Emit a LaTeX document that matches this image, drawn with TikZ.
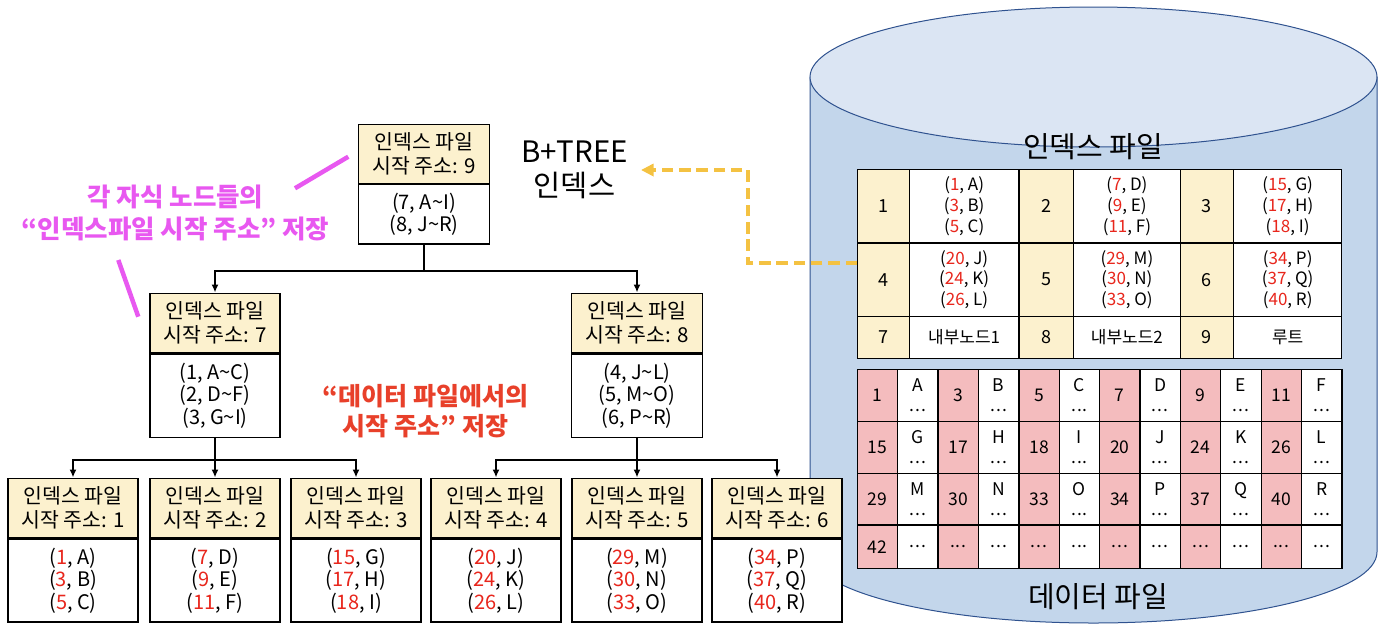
\documentclass[tikz,border=0pt]{standalone}
\usepackage{fontspec}
\setmainfont{Noto Sans CJK KR}
\usetikzlibrary{arrows.meta}
\definecolor{hdr}{RGB}{252,241,206}
\definecolor{pinkc}{RGB}{244,188,190}
\definecolor{numred}{RGB}{232,38,28}
\definecolor{mag}{RGB}{232,88,240}
\definecolor{tred}{RGB}{232,64,42}
\definecolor{gold}{RGB}{244,194,66}
\definecolor{cylside}{RGB}{195,214,235}
\definecolor{cyltop}{RGB}{219,229,243}
\definecolor{cyledge}{RGB}{47,82,143}
\newcommand{\rn}[1]{\textcolor{numred}{#1}}
\newcommand{\mytilde}{\textasciitilde}
\newcommand{\dts}{.\kern1pt.\kern1pt.}
\begin{document}
\begin{tikzpicture}[x=1pt,y=-1pt,
  hbox/.style={draw=black, line width=1.3pt, fill=hdr, anchor=north, minimum width=130pt, minimum height=59.5pt, inner sep=0pt, align=center, font=\fontsize{20.5}{24}\selectfont},
  bbox/.style={draw=black, line width=1.3pt, fill=white, anchor=north, minimum width=130pt, minimum height=83pt, inner sep=0pt, align=center, font=\fontsize{20}{22.5}\selectfont},
  arr/.style={line width=1.8pt, -{Latex[length=8pt,width=7pt]}},
  icell/.style={draw=black, line width=1.3pt, inner sep=0pt, anchor=north west, align=center, font=\fontsize{17}{20.7}\selectfont},
  ncell/.style={icell, fill=hdr, font=\fontsize{18}{20}\selectfont},
  dcell/.style={draw=black, line width=1.3pt, inner sep=0pt, anchor=north west, align=center, minimum width=40.38pt, font=\fontsize{17.5}{20}\selectfont},
  ]
\useasboundingbox (0,0) rectangle (1386,630);

% ---------- cylinder ----------
\filldraw[fill=cylside, draw=cyledge, line width=1pt] (810,77) -- (810,552)
  arc[start angle=180, end angle=0, x radius=283.5, y radius=71] -- (1377,77) -- cycle;
\filldraw[fill=cyltop, draw=cyledge, line width=1pt] (1093.5,77) ellipse [x radius=283.5, y radius=70];
\node[font=\fontsize{29}{32}\selectfont] (idxlabel) at (1093,147) {인덱스 파일};
\node[font=\fontsize{29}{32}\selectfont] (datlabel) at (1098,597) {데이터 파일};

% ---------- index table ----------
\node[ncell, minimum width=51.6pt, minimum height=73.3pt] (i1) at (857,169) {1};
\node[icell, fill=white, minimum width=109.8pt, minimum height=73.3pt] (c1) at (908.6,169) {(\rn{1}, A)\\(\rn{3}, B)\\(\rn{5}, C)};
\node[ncell, minimum width=54.6pt, minimum height=73.3pt] (i2) at (1018.4,169) {2};
\node[icell, fill=white, minimum width=106.5pt, minimum height=73.3pt] (c2) at (1073,169) {(\rn{7}, D)\\(\rn{9}, E)\\(\rn{11}, F)};
\node[ncell, minimum width=53.5pt, minimum height=73.3pt] (i3) at (1179.5,169) {3};
\node[icell, fill=white, minimum width=108pt, minimum height=73.3pt] (c3) at (1233,169) {(\rn{15}, G)\\(\rn{17}, H)\\(\rn{18}, I)};

\node[ncell, minimum width=51.6pt, minimum height=73.4pt] (i4) at (857,242.3) {4};
\node[icell, fill=white, minimum width=109.8pt, minimum height=73.4pt] (c4) at (908.6,242.3) {(\rn{20}, J)\\(\rn{24}, K)\\(\rn{26}, L)};
\node[ncell, minimum width=54.6pt, minimum height=73.4pt] (i5) at (1018.4,242.3) {5};
\node[icell, fill=white, minimum width=106.5pt, minimum height=73.4pt] (c5) at (1073,242.3) {(\rn{29}, M)\\(\rn{30}, N)\\(\rn{33}, O)};
\node[ncell, minimum width=53.5pt, minimum height=73.4pt] (i6) at (1179.5,242.3) {6};
\node[icell, fill=white, minimum width=108pt, minimum height=73.4pt] (c6) at (1233,242.3) {(\rn{34}, P)\\(\rn{37}, Q)\\(\rn{40}, R)};

\node[ncell, minimum width=51.6pt, minimum height=42pt] (i7) at (857,315.7) {7};
\node[icell, fill=white, minimum width=109.8pt, minimum height=42pt] (c7) at (908.6,315.7) {내부노드1};
\node[ncell, minimum width=54.6pt, minimum height=42pt] (i8) at (1018.4,315.7) {8};
\node[icell, fill=white, minimum width=106.5pt, minimum height=42pt] (c8) at (1073,315.7) {내부노드2};
\node[ncell, minimum width=53.5pt, minimum height=42pt] (i9) at (1179.5,315.7) {9};
\node[icell, fill=white, minimum width=108pt, minimum height=42pt] (c9) at (1233,315.7) {루트};

% ---------- data table ----------
\foreach \n/\l [count=\k from 0] in {1/A,3/B,5/C,7/D,9/E,11/F} {
  \node[dcell, fill=pinkc, minimum height=51.8pt] (da\k) at ({856.7+2*\k*40.38},369) {\n};
  \node[dcell, fill=white, minimum height=51.8pt] (dal\k) at ({856.7+(2*\k+1)*40.38},369) {\l\\\dts};
}
\foreach \n/\l [count=\k from 0] in {15/G,17/H,18/I,20/J,24/K,26/L} {
  \node[dcell, fill=pinkc, minimum height=51.8pt] (db\k) at ({856.7+2*\k*40.38},420.8) {\n};
  \node[dcell, fill=white, minimum height=51.8pt] (dbl\k) at ({856.7+(2*\k+1)*40.38},420.8) {\l\\\dts};
}
\foreach \n/\l [count=\k from 0] in {29/M,30/N,33/O,34/P,37/Q,40/R} {
  \node[dcell, fill=pinkc, minimum height=51.8pt] (dc\k) at ({856.7+2*\k*40.38},472.6) {\n};
  \node[dcell, fill=white, minimum height=51.8pt] (dcl\k) at ({856.7+(2*\k+1)*40.38},472.6) {\l\\\dts};
}
\node[dcell, fill=pinkc, minimum height=43.3pt] (dd0) at (856.7,524.4) {42};
\node[dcell, fill=white, minimum height=43.3pt] (ddl0) at ({856.7+40.38},524.4) {\dts};
\foreach \k in {1,...,5} {
  \node[dcell, fill=pinkc, minimum height=43.3pt] (dd\k) at ({856.7+2*\k*40.38},524.4) {\dts};
  \node[dcell, fill=white, minimum height=43.3pt] (ddl\k) at ({856.7+(2*\k+1)*40.38},524.4) {\dts};
}

% ---------- tree ----------
\node[hbox, minimum width=131pt, minimum height=58.5pt] (r) at (424,124) {인덱스 파일\\시작 주소: 9};
\node[bbox, minimum width=131pt, minimum height=59.5pt] (rb) at (r.south) {(7, A\mytilde I)\\(8, J\mytilde R)};

\node[hbox] (a) at (215,292.5) {인덱스 파일\\시작 주소: 7};
\node[bbox, minimum height=83.5pt] (ab) at (a.south) {(1, A\mytilde C)\\(2, D\mytilde F)\\(3, G\mytilde I)};
\node[hbox, minimum width=131pt] (b) at (637,292.5) {인덱스 파일\\시작 주소: 8};
\node[bbox, minimum width=131pt, minimum height=83.5pt] (bb) at (b.south) {(4, J\mytilde L)\\(5, M\mytilde O)\\(6, P\mytilde R)};

\node[hbox] (l1) at (73,477.5) {인덱스 파일\\시작 주소: 1};
\node[bbox] (l1b) at (l1.south) {(\rn{1}, A)\\(\rn{3}, B)\\(\rn{5}, C)};
\node[hbox] (l2) at (215,477.5) {인덱스 파일\\시작 주소: 2};
\node[bbox] (l2b) at (l2.south) {(\rn{7}, D)\\(\rn{9}, E)\\(\rn{11}, F)};
\node[hbox] (l3) at (356,477.5) {인덱스 파일\\시작 주소: 3};
\node[bbox] (l3b) at (l3.south) {(\rn{15}, G)\\(\rn{17}, H)\\(\rn{18}, I)};
\node[hbox] (l4) at (496,477.5) {인덱스 파일\\시작 주소: 4};
\node[bbox] (l4b) at (l4.south) {(\rn{20}, J)\\(\rn{24}, K)\\(\rn{26}, L)};
\node[hbox] (l5) at (637,477.5) {인덱스 파일\\시작 주소: 5};
\node[bbox] (l5b) at (l5.south) {(\rn{29}, M)\\(\rn{30}, N)\\(\rn{33}, O)};
\node[hbox] (l6) at (777,477.5) {인덱스 파일\\시작 주소: 6};
\node[bbox] (l6b) at (l6.south) {(\rn{34}, P)\\(\rn{37}, Q)\\(\rn{40}, R)};

\draw[arr] (rb.south) -- ++(0,26) -| (a.north);
\draw[arr] (rb.south) -- ++(0,26) -| (b.north);
\draw[arr] (ab.south) -- ++(0,21.5) -| (l1.north);
\draw[arr] (ab.south) -- (l2.north);
\draw[arr] (ab.south) -- ++(0,21.5) -| (l3.north);
\draw[arr] (bb.south) -- ++(0,21.5) -| (l4.north);
\draw[arr] (bb.south) -- (l5.north);
\draw[arr] (bb.south) -- ++(0,21.5) -| (l6.north);

% ---------- labels ----------
\node[align=center, font=\fontsize{29.5}{34}\selectfont] (bt) at (574.5,169.5) {B+TREE\\인덱스};
\node[align=center, text=mag, font=\bfseries\fontsize{25.5}{31.5}\selectfont] (mt) at (175.5,213) {각 자식 노드들의\\“인덱스파일 시작 주소” 저장};
\node[align=center, text=tred, font=\bfseries\fontsize{25}{30.5}\selectfont] (rt) at (425.5,411) {“데이터 파일에서의\\시작 주소” 저장};

\coordinate (m1a) at (295,188.3);
\coordinate (m1b) at (348.3,156.7);
\coordinate (m2a) at (118.3,260);
\coordinate (m2b) at (138.3,316.7);
\draw[mag, line width=4.5pt] (m1a) -- (m1b);
\draw[mag, line width=4.5pt] (m2a) -- (m2b);

\coordinate (ds) at (857,263);
\coordinate (tip) at (641,170);
\draw[gold, line width=3.8pt, dash pattern=on 11.5pt off 5.8pt, -{Triangle[length=12.5pt,width=12pt]}] (ds) -| (748,170) -- (tip);
\end{tikzpicture}
\end{document}
